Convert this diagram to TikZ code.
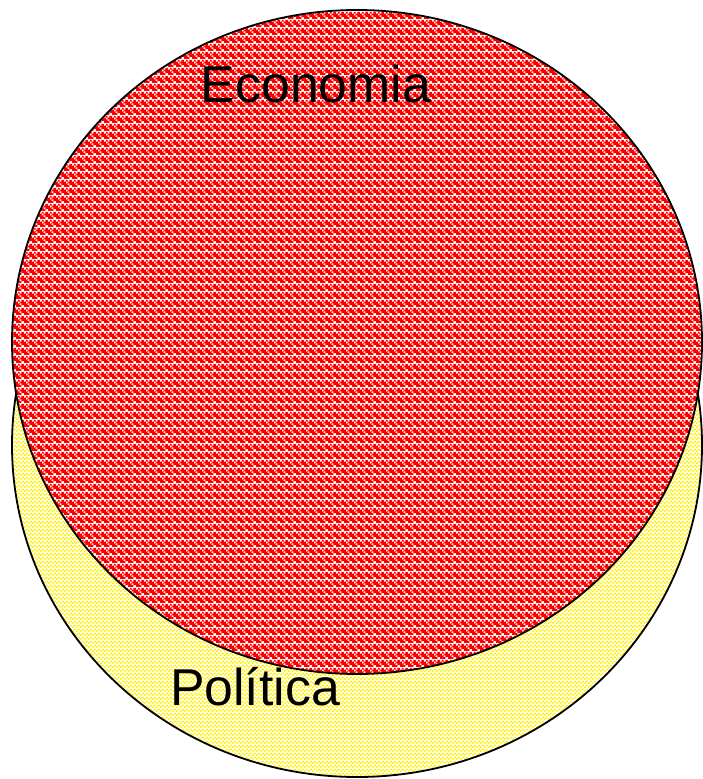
\documentclass[tikz,border=0pt]{standalone}
\usepackage{fontspec}
\setmainfont{Liberation Sans}
\usetikzlibrary{patterns}

% dotted fills
\pgfdeclarepatterninherentlycolored{redcheck}{\pgfpointorigin}{\pgfqpoint{8bp}{8bp}}{\pgfqpoint{8bp}{8bp}}{
    \pgfsetfillcolor{red}
    \foreach \cx/\cy in {0/0,4/0,2/2,6/2,0/4,4/4,2/6,6/6,2/0,6/4,0/2}{
        \pgfpathrectangle{\pgfpoint{\cx bp}{\cy bp}}{\pgfpoint{2bp}{2bp}}
    }
    \pgfusepath{fill}
}
\pgfdeclarepatterninherentlycolored{yellowcheck}{\pgfpointorigin}{\pgfqpoint{4bp}{4bp}}{\pgfqpoint{4bp}{4bp}}{
    \pgfsetfillcolor{yellow}
    \pgfpathrectangle{\pgfpoint{0bp}{0bp}}{\pgfpoint{2bp}{2bp}}
    \pgfpathrectangle{\pgfpoint{2bp}{2bp}}{\pgfpoint{2bp}{2bp}}
    \pgfusepath{fill}
}

\begin{document}
\begin{tikzpicture}[x=1bp,y=-1bp,
    set/.style={draw=black,line width=1.8bp,preaction={fill=white}},
    setlabel/.style={anchor=base,font=\fontsize{52}{60}\selectfont}]
    \useasboundingbox (0,0) rectangle (703,779);

    % Politica (behind)
    \draw[set,pattern=yellowcheck] (357,445) ellipse [x radius=345, y radius=332];

    % Economia (in front)
    \draw[set,pattern=redcheck] (357,342) ellipse [x radius=345, y radius=332];

    % Labels
    \node[setlabel] (economia) at (316,102) {Economia};
    \node[setlabel] (politica) at (255,705) {Política};
\end{tikzpicture}
\end{document}
